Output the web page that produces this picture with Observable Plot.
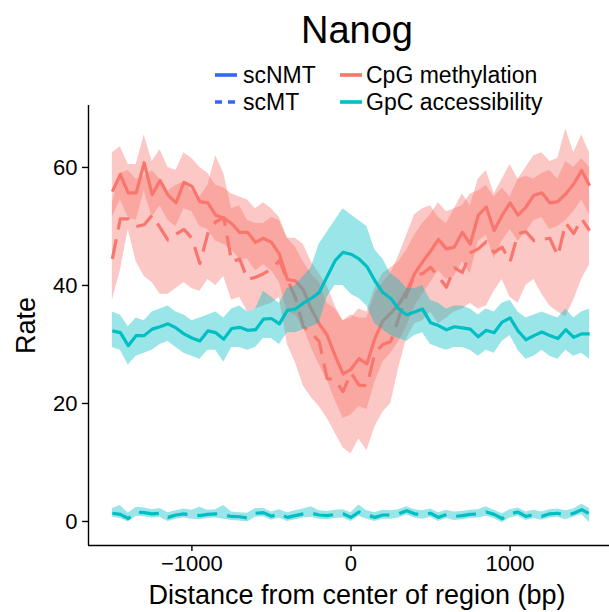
<!DOCTYPE html>
<html>
<head>
<meta charset="utf-8">
<script src="https://cdn.jsdelivr.net/npm/d3@7"></script>
<script src="https://cdn.jsdelivr.net/npm/@observablehq/plot@0.6"></script>
<style>
  body { margin: 0; background: #fff; }
  #chart { position: relative; width: 609px; height: 612px; font-family: "Liberation Sans", Arial, sans-serif; }
  #chart svg { position: absolute; left: 0; top: 0; }
</style>
</head>
<body>
<div id="chart"></div>
<script>
// ---------- data ----------
const titleText = "Nanog";
const xLabel = "Distance from center of region (bp)";
const yLabel = "Rate";
const xTicks = [-1000, 0, 1000];
const yTicks = [0, 20, 40, 60];
const protocols = ["scNMT", "scMT"];
const contexts = ["CpG methylation", "GpC accessibility"];
const contextColors = ["#F8766D", "#00BFC4"];
const protocolColor = "#3366FF";

const positions = [-1500,-1450,-1400,-1350,-1300,-1250,-1200,-1150,-1100,-1050,-1000,-950,-900,-850,-800,-750,-700,-650,-600,-550,-500,-450,-400,-350,-300,-250,-200,-150,-100,-50,0,50,100,150,200,250,300,350,400,450,500,550,600,650,700,750,800,850,900,950,1000,1050,1100,1150,1200,1250,1300,1350,1400,1450,1500];

// CpG methylation, scNMT (solid)
const cpgNMT = [55.9,58.8,55.7,55.7,60.8,55.4,57.8,55.3,54.0,57.5,56.8,54.2,54.0,51.9,51.4,
  50.5,49.0,49.0,47.3,48.0,47.3,45.3,41.0,40.8,39.3,36.0,33.5,31.6,28.1,25.0,
  25.8,27.6,26.7,31.0,34.0,35.3,36.8,39.0,42.0,44.0,45.8,47.8,46.2,46.5,49.0,
  47.0,51.9,53.3,49.3,51.9,54.0,51.9,53.3,55.3,55.7,54.0,54.2,55.5,57.2,59.5,56.9];
const cpgNMTHi = [62.5,63.5,60.5,60.5,65.5,61.0,63.0,60.0,59.5,62.5,61.5,60.0,59.0,57.0,56.5,
  55.5,55.0,54.5,53.0,54.0,53.0,51.5,48.0,48.0,47.0,44.0,42.0,40.0,36.5,34.0,
  34.5,36.0,35.5,39.5,42.0,43.0,44.0,46.0,48.5,50.5,52.0,54.0,52.5,53.0,55.5,
  53.5,58.0,59.5,55.5,58.0,60.5,58.0,60.0,62.0,62.5,61.0,61.5,66.5,62.5,65.5,62.5];
const cpgNMTLo = [51.5,54.5,51.5,51.0,56.0,51.5,53.5,51.0,50.0,53.0,52.5,50.0,49.5,47.5,47.0,
  46.0,44.5,44.5,42.5,43.5,42.5,40.5,35.5,35.0,33.0,29.5,26.5,24.0,20.5,17.5,
  18.0,19.5,19.0,23.5,27.0,28.5,30.5,33.0,36.5,38.5,40.5,42.5,41.0,41.5,44.0,
  42.0,47.5,48.5,44.5,47.5,49.5,47.5,49.0,51.0,51.5,49.5,50.0,51.0,52.5,54.5,52.0];

// CpG methylation, scMT (dashed)
const cpgMT = [44.5,51.3,51.3,50.0,50.3,51.9,49.8,47.7,48.7,49.5,48.0,43.7,48.8,50.8,51.5,
  44.0,44.5,41.0,41.4,42.0,42.8,44.2,41.0,38.0,33.0,32.0,30.5,24.2,24.0,22.0,
  25.2,23.1,23.0,28.5,30.0,30.5,34.5,38.5,41.7,42.0,43.1,41.5,39.7,43.0,42.2,
  45.5,46.2,47.4,45.6,46.5,44.0,48.8,49.1,47.6,47.8,48.0,45.0,50.6,48.8,51.3,49.3];
const cpgMTHi = [54.0,59.0,59.5,58.0,58.5,59.5,58.0,56.0,57.0,57.5,56.0,55.0,57.0,62.0,59.0,
  53.0,53.5,51.0,50.5,50.5,51.5,51.0,48.0,46.5,44.0,42.0,40.5,37.0,36.0,34.0,
  35.0,34.5,34.5,38.5,40.5,42.0,45.0,48.5,52.0,53.0,53.5,51.5,50.5,53.0,53.5,
  55.5,56.0,57.0,55.0,56.5,55.0,58.0,58.5,58.0,59.0,59.5,58.0,61.0,60.0,61.5,60.0];
const cpgMTLo = [37.5,42.5,49.5,44.0,41.5,40.5,38.5,38.5,39.5,40.5,39.5,39.0,41.0,40.0,41.5,
  37.5,38.0,35.5,36.0,36.5,37.0,38.0,30.0,27.0,23.0,21.0,19.5,17.5,15.0,12.5,
  11.5,14.0,12.0,16.0,18.5,20.0,26.0,31.0,33.5,34.0,35.5,33.5,34.5,35.5,36.0,
  37.0,36.0,36.5,39.0,41.0,38.0,37.0,40.0,41.0,38.5,36.5,35.5,34.7,37.5,41.0,43.5];

// GpC accessibility, scNMT (solid)
const gpcNMT = [32.3,32.0,29.8,31.5,31.5,32.6,33.0,33.5,32.8,31.8,31.1,30.6,32.3,32.0,30.9,
  32.7,32.9,32.4,32.5,34.3,34.4,33.5,35.8,36.0,37.0,37.8,38.8,41.5,44.2,45.6,
  45.3,44.5,43.2,40.8,38.8,37.8,36.0,35.0,35.5,36.0,33.7,33.2,32.5,33.0,32.8,
  32.6,31.3,32.4,32.0,33.8,34.5,32.3,30.8,31.5,32.1,31.5,31.0,32.5,31.2,31.8,31.8];
const gpcNMTHi = [35.5,35.0,33.0,34.5,34.0,35.5,36.0,36.5,35.5,35.0,34.0,34.5,35.0,35.5,34.5,
  36.0,36.5,35.5,36.0,39.0,38.0,37.0,39.5,40.0,41.5,43.0,47.0,49.0,51.0,53.0,
  52.0,51.0,50.0,46.0,44.5,42.0,41.0,39.5,39.5,40.0,37.5,37.0,36.0,36.5,36.5,
  36.0,35.0,36.0,35.5,37.0,37.5,35.5,34.5,35.0,35.5,35.0,34.5,36.0,34.5,35.5,36.0];
const gpcNMTLo = [29.5,29.0,26.5,28.0,28.5,29.0,30.0,30.5,29.5,28.5,28.0,27.5,29.0,29.0,27.0,
  29.5,29.5,29.0,29.5,31.0,31.0,30.0,32.0,32.0,32.5,33.0,33.5,38.0,40.0,40.0,
  38.5,37.8,36.5,33.5,32.5,31.5,31.0,30.5,31.5,32.0,30.0,29.5,29.0,29.5,29.5,
  29.0,28.0,29.0,28.5,30.5,31.5,29.0,27.5,28.0,29.0,28.0,27.5,29.0,28.0,28.5,27.5];

// GpC accessibility, scMT (dashed)
const gpcMT = [1.4,1.2,0.5,1.6,1.5,1.3,1.4,0.7,1.1,1.3,1.1,1.0,1.2,1.3,1.1,
  0.85,0.8,0.6,1.4,1.5,0.9,1.3,0.7,1.0,1.3,1.4,1.1,1.0,1.2,1.3,
  0.7,1.6,1.1,0.7,1.1,1.1,1.3,1.8,1.3,1.1,1.4,0.7,1.2,0.85,1.0,
  1.2,1.3,1.6,1.2,0.5,1.3,1.6,0.85,1.2,0.9,1.3,1.4,1.0,1.4,2.0,1.3];
const gpcMTHi = [2.2,2.7,1.4,2.4,2.3,2.0,2.2,1.5,1.8,2.1,1.9,2.4,1.9,2.0,2.7,
  1.6,1.5,1.4,2.2,2.2,1.6,2.0,1.5,1.8,2.1,2.5,1.8,1.7,1.9,2.0,
  1.5,2.8,1.8,1.5,1.9,1.8,2.0,2.5,2.0,1.8,2.1,1.5,1.9,1.6,1.7,
  1.9,2.0,2.5,1.9,1.3,2.0,2.3,1.6,1.9,1.6,2.0,2.1,1.8,2.1,2.9,2.2];
const gpcMTLo = [0.7,0.5,-0.1,0.9,0.8,0.6,0.7,0.0,0.4,0.6,0.4,0.3,0.5,0.6,0.4,
  0.15,0.1,-0.1,0.7,0.8,0.2,0.6,0.0,0.3,0.6,0.7,0.4,0.3,0.5,0.6,
  0.0,0.9,0.4,0.0,0.4,0.4,0.6,1.1,0.6,0.4,0.7,0.0,0.5,0.15,0.3,
  0.5,0.6,0.9,0.5,-0.2,0.6,0.9,0.15,0.5,0.2,0.6,0.7,0.3,0.7,1.2,-0.2];

// ---------- build ----------
function rows(protocol, context, mean, lo, hi) {
  return positions.map((x, i) => ({x, protocol, context, mean: mean[i], lo: lo[i], hi: hi[i]}));
}
const series = [
  rows(protocols[0], contexts[0], cpgNMT, cpgNMTLo, cpgNMTHi),
  rows(protocols[1], contexts[0], cpgMT, cpgMTLo, cpgMTHi),
  rows(protocols[0], contexts[1], gpcNMT, gpcNMTLo, gpcNMTHi),
  rows(protocols[1], contexts[1], gpcMT, gpcMTLo, gpcMTHi)
];

const xDomain = [-1650, 1625];
const yDomain = [-4.07, 70.5];
const font = '"Liberation Sans", Arial, sans-serif';
const dash = "20,10";
const lw = 3.2;

function ribbon(d, color) {
  return Plot.areaY(d, {x: "x", y1: "lo", y2: "hi", fill: color, fillOpacity: 0.4});
}
function line(d, color, dashed) {
  return Plot.line(d, {x: "x", y: "mean", stroke: color, strokeWidth: lw,
    strokeDasharray: dashed ? dash : null, strokeLinecap: "butt", strokeLinejoin: "round"});
}
const fmt = d => (d < 0 ? "\u2212" : "") + Math.abs(d);

const plot = Plot.plot({
  width: 609, height: 612,
  marginTop: 105, marginBottom: 67, marginLeft: 88, marginRight: 0,
  style: {fontFamily: font, fontSize: "22px", color: "#000", background: "transparent", overflow: "visible"},
  x: {domain: xDomain},
  y: {domain: yDomain},
  marks: [
    ribbon(series[0], contextColors[0]),
    ribbon(series[1], contextColors[0]),
    line(series[0], contextColors[0], false),
    line(series[1], contextColors[0], true),
    ribbon(series[2], contextColors[1]),
    ribbon(series[3], contextColors[1]),
    line(series[2], contextColors[1], false),
    line(series[3], contextColors[1], true),
    Plot.ruleX([xDomain[0]], {stroke: "#000", strokeWidth: 1.4}),
    Plot.ruleY([yDomain[0]], {stroke: "#000", strokeWidth: 1.4}),
    Plot.axisX({ticks: xTicks, tickSize: 6, tickPadding: 4, tickFormat: fmt, label: null, strokeWidth: 1.4}),
    Plot.axisY({ticks: yTicks, tickSize: 6, tickPadding: 5, label: null, strokeWidth: 1.4}),
    Plot.text([xLabel], {text: d => d, frameAnchor: "bottom", lineAnchor: "middle", dy: 50, dx: 8, fontSize: 27, fill: "#000"}),
    Plot.axisY({ticks: [], label: yLabel, labelAnchor: "center", labelOffset: 73, labelArrow: "none", fontSize: 27})
  ]
});
document.getElementById("chart").appendChild(plot);

// ---------- title and legend ----------
const header = d3.create("svg")
  .attr("width", 609).attr("height", 130)
  .style("pointer-events", "none")
  .style("font-family", font);
header.append("text")
  .attr("x", 357).attr("y", 43)
  .attr("text-anchor", "middle")
  .attr("font-size", 38)
  .attr("fill", "#000")
  .text(titleText);

const legendRowsY = [75, 102];
const keyX = [[215, 237], [340, 362]];
const textX = [243, 366];
protocols.forEach((p, i) => {
  header.append("line")
    .attr("x1", keyX[0][0]).attr("x2", keyX[0][1])
    .attr("y1", legendRowsY[i]).attr("y2", legendRowsY[i])
    .attr("stroke", protocolColor).attr("stroke-width", 3.6)
    .attr("stroke-dasharray", i === 1 ? "7,6" : null);
  header.append("text")
    .attr("x", textX[0]).attr("y", legendRowsY[i] + 8)
    .attr("font-size", 23).attr("fill", "#000")
    .text(p);
});
contexts.forEach((c, i) => {
  header.append("line")
    .attr("x1", keyX[1][0]).attr("x2", keyX[1][1])
    .attr("y1", legendRowsY[i]).attr("y2", legendRowsY[i])
    .attr("stroke", contextColors[i]).attr("stroke-width", 3.6);
  header.append("text")
    .attr("x", textX[1]).attr("y", legendRowsY[i] + 8)
    .attr("font-size", 23).attr("fill", "#000")
    .text(c);
});
document.getElementById("chart").appendChild(header.node());
</script>
</body>
</html>
